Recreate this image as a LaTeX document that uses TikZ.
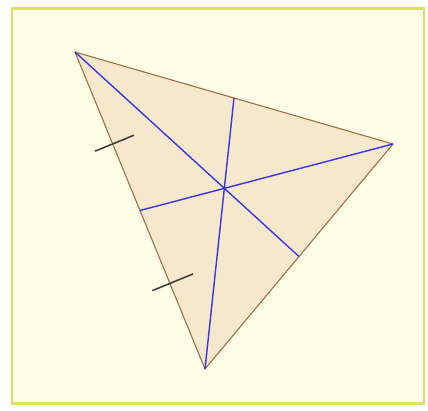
\documentclass[tikz,border=0pt]{standalone}
\usetikzlibrary{calc}
\definecolor{bgyellow}{RGB}{255,255,232}
\definecolor{frameyellow}{RGB}{222,222,100}
\definecolor{trifill}{RGB}{246,232,204}
\definecolor{edgebrown}{RGB}{160,110,70}
\definecolor{medblue}{RGB}{55,55,225}
\tikzset{
  edge/.style={draw=edgebrown, line width=1.1pt},
  median/.style={draw=medblue, line width=1.4pt},
  tickmark/.style={draw=black!75, line width=1.6pt},
}
\begin{document}
\begin{tikzpicture}[x=1pt,y=-1pt]
\useasboundingbox (0,0) rectangle (428,410);
\fill[white] (0,0) rectangle (428,410);
\draw[fill=bgyellow, draw=frameyellow, line width=2.2pt] (12,8.5) rectangle (424,403.5);
\coordinate (A) at (75,52);
\coordinate (B) at (393,144);
\coordinate (C) at (205,369);
\coordinate (Mab) at ($(A)!0.5!(B)$);
\coordinate (Mbc) at ($(B)!0.5!(C)$);
\coordinate (Mac) at ($(A)!0.5!(C)$);
\fill[trifill] (A) -- (B) -- (C) -- cycle;
\draw[edge, line join=round] (A) -- (B) -- (C) -- cycle;
\draw[median] (A) -- (Mbc);
\draw[median] (B) -- (Mac);
\draw[median] (C) -- (Mab);
\coordinate (T1) at ($(A)!0.29!(C)$);
\coordinate (T2) at ($(A)!0.73!(C)$);
\draw[tickmark] ($(T1)!23pt!90:(C)$) -- ($(T1)!19pt!-90:(C)$);
\draw[tickmark] ($(T2)!25pt!90:(C)$) -- ($(T2)!19pt!-90:(C)$);
\end{tikzpicture}
\end{document}
